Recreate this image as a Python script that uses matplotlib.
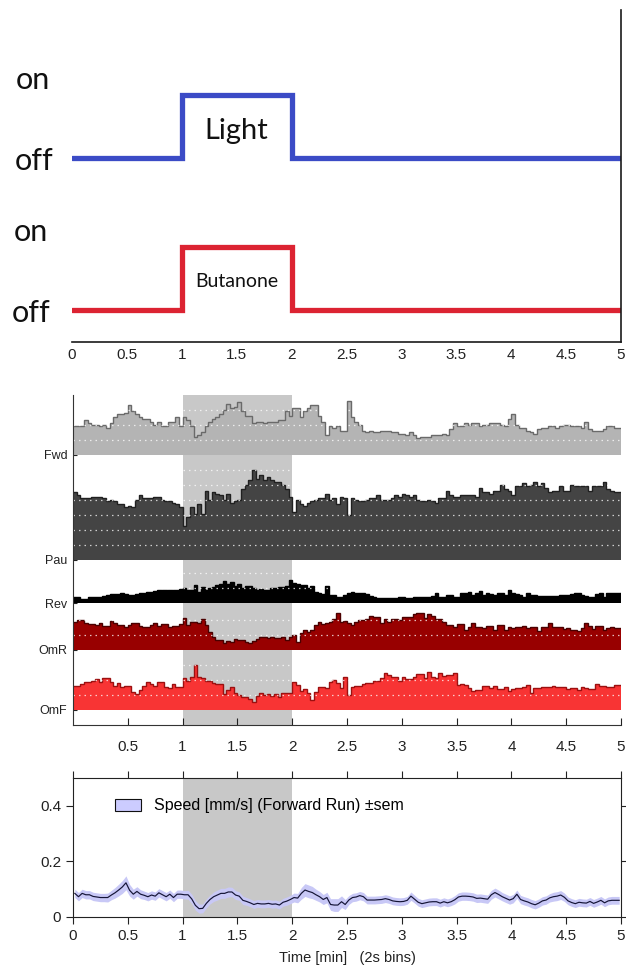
import numpy as np
import matplotlib
matplotlib.use("Agg")
import matplotlib.pyplot as plt
from matplotlib.patches import Patch
from matplotlib.ticker import FuncFormatter

# ---------------- data ----------------
stim_edges = [0, 1, 2, 5]           # minutes
light_state = [0, 1, 0, 0]          # off/on
butanone_state = [0, 1, 0, 0]

time_ticks = [0, 0.5, 1, 1.5, 2, 2.5, 3, 3.5, 4, 4.5, 5]
state_names = ["Fwd", "Pau", "Rev", "OmR", "OmF"]

fwd = [0.19,0.19,0.19,0.23,0.21,0.20,0.20,0.19,0.20,0.18,
       0.21,0.25,0.27,0.27,0.28,0.33,0.29,0.27,0.25,0.24,
       0.24,0.22,0.20,0.22,0.19,0.19,0.22,0.22,0.25,0.19,
       0.25,0.23,0.19,0.12,0.13,0.15,0.19,0.22,0.24,0.25,
       0.27,0.30,0.34,0.31,0.32,0.35,0.29,0.26,0.26,0.21,
       0.22,0.22,0.21,0.22,0.22,0.22,0.23,0.23,0.29,0.26,
       0.31,0.31,0.25,0.29,0.31,0.33,0.33,0.26,0.22,0.13,
       0.19,0.18,0.19,0.16,0.16,0.36,0.25,0.22,0.20,0.16,
       0.15,0.16,0.15,0.15,0.16,0.16,0.16,0.15,0.15,0.14,
       0.14,0.13,0.15,0.13,0.11,0.12,0.12,0.12,0.13,0.13,
       0.13,0.14,0.13,0.17,0.21,0.19,0.19,0.21,0.20,0.21,
       0.21,0.19,0.20,0.20,0.21,0.21,0.21,0.20,0.19,0.24,
       0.27,0.20,0.18,0.18,0.16,0.15,0.14,0.17,0.18,0.18,
       0.19,0.19,0.18,0.19,0.20,0.20,0.19,0.19,0.19,0.18,
       0.22,0.17,0.16,0.16,0.16,0.17,0.19,0.19,0.18,0.18]

pau = [0.45,0.43,0.41,0.41,0.41,0.42,0.42,0.42,0.41,0.39,
       0.40,0.39,0.37,0.37,0.35,0.36,0.35,0.40,0.43,0.41,
       0.41,0.41,0.42,0.42,0.40,0.39,0.39,0.38,0.37,0.35,
       0.23,0.29,0.35,0.31,0.37,0.31,0.46,0.40,0.45,0.44,
       0.43,0.40,0.44,0.38,0.39,0.40,0.47,0.50,0.53,0.60,
       0.54,0.57,0.53,0.55,0.53,0.52,0.52,0.50,0.47,0.42,
       0.32,0.40,0.37,0.36,0.38,0.39,0.40,0.41,0.41,0.44,
       0.40,0.41,0.37,0.42,0.41,0.30,0.41,0.40,0.39,0.39,
       0.40,0.41,0.41,0.43,0.40,0.40,0.40,0.41,0.43,0.42,
       0.44,0.43,0.42,0.43,0.40,0.39,0.39,0.40,0.39,0.38,
       0.41,0.41,0.46,0.43,0.42,0.42,0.43,0.43,0.43,0.43,
       0.42,0.48,0.45,0.45,0.44,0.46,0.46,0.50,0.47,0.46,
       0.43,0.49,0.49,0.51,0.49,0.50,0.52,0.49,0.51,0.48,
       0.45,0.46,0.46,0.49,0.46,0.46,0.50,0.49,0.49,0.49,
       0.49,0.46,0.49,0.49,0.49,0.52,0.47,0.46,0.45,0.45]

rev = [0.040,0.040,0.030,0.030,0.040,0.040,0.042,0.042,0.050,0.053,
       0.060,0.060,0.060,0.064,0.060,0.053,0.053,0.060,0.070,0.070,
       0.076,0.076,0.080,0.087,0.087,0.087,0.090,0.090,0.090,0.095,
       0.100,0.087,0.090,0.120,0.076,0.109,0.087,0.100,0.105,0.120,
       0.130,0.149,0.127,0.142,0.113,0.127,0.098,0.113,0.113,0.098,
       0.087,0.091,0.087,0.087,0.098,0.098,0.105,0.109,0.113,0.153,
       0.136,0.127,0.120,0.120,0.098,0.113,0.076,0.064,0.060,0.113,
       0.053,0.053,0.042,0.038,0.053,0.064,0.076,0.070,0.069,0.065,
       0.058,0.045,0.038,0.033,0.031,0.033,0.035,0.035,0.036,0.038,
       0.038,0.035,0.031,0.040,0.042,0.042,0.042,0.042,0.050,0.064,
       0.042,0.042,0.053,0.053,0.042,0.042,0.064,0.064,0.076,0.053,
       0.070,0.082,0.053,0.064,0.060,0.053,0.064,0.064,0.053,0.087,
       0.069,0.060,0.053,0.042,0.069,0.053,0.053,0.047,0.047,0.047,
       0.047,0.047,0.047,0.053,0.053,0.053,0.060,0.064,0.064,0.055,
       0.047,0.040,0.038,0.060,0.069,0.042,0.064,0.064,0.069,0.069]

omr = [0.189,0.200,0.200,0.178,0.173,0.173,0.167,0.178,0.160,0.160,
       0.196,0.178,0.167,0.167,0.156,0.167,0.178,0.178,0.160,0.156,
       0.156,0.167,0.178,0.160,0.173,0.173,0.156,0.160,0.160,0.173,
       0.211,0.167,0.189,0.189,0.178,0.204,0.167,0.122,0.084,0.067,
       0.067,0.049,0.062,0.056,0.071,0.067,0.067,0.056,0.049,0.062,
       0.075,0.089,0.084,0.078,0.089,0.078,0.078,0.084,0.067,0.089,
       0.100,0.056,0.116,0.133,0.122,0.133,0.167,0.189,0.173,0.180,
       0.189,0.204,0.244,0.189,0.196,0.178,0.167,0.189,0.200,0.200,
       0.204,0.227,0.222,0.222,0.178,0.204,0.189,0.204,0.204,0.200,
       0.218,0.218,0.222,0.240,0.244,0.244,0.211,0.240,0.227,0.204,
       0.204,0.189,0.167,0.167,0.156,0.173,0.173,0.133,0.156,0.178,
       0.156,0.156,0.144,0.160,0.160,0.133,0.167,0.167,0.133,0.156,
       0.144,0.156,0.156,0.160,0.144,0.156,0.156,0.129,0.156,0.156,
       0.178,0.151,0.156,0.156,0.138,0.144,0.133,0.133,0.129,0.144,
       0.178,0.160,0.138,0.160,0.160,0.133,0.144,0.156,0.144,0.144]

omf = [0.160,0.160,0.173,0.189,0.189,0.196,0.204,0.189,0.211,0.211,
       0.189,0.160,0.182,0.156,0.160,0.160,0.122,0.107,0.133,0.160,
       0.189,0.173,0.160,0.189,0.189,0.156,0.144,0.173,0.156,0.156,
       0.211,0.196,0.222,0.300,0.222,0.211,0.196,0.196,0.182,0.173,
       0.173,0.107,0.133,0.156,0.116,0.100,0.089,0.084,0.071,0.056,
       0.093,0.116,0.100,0.107,0.093,0.107,0.089,0.111,0.111,0.111,
       0.189,0.167,0.129,0.138,0.116,0.067,0.122,0.156,0.156,0.144,
       0.189,0.200,0.182,0.144,0.222,0.100,0.156,0.160,0.160,0.173,
       0.182,0.182,0.196,0.196,0.211,0.244,0.233,0.222,0.218,0.196,
       0.222,0.204,0.204,0.222,0.240,0.240,0.211,0.256,0.222,0.211,
       0.249,0.227,0.233,0.233,0.249,0.167,0.173,0.167,0.144,0.129,
       0.133,0.133,0.160,0.160,0.144,0.160,0.138,0.138,0.156,0.129,
       0.138,0.144,0.144,0.156,0.167,0.111,0.144,0.144,0.156,0.151,
       0.151,0.160,0.156,0.156,0.151,0.138,0.144,0.144,0.133,0.156,
       0.144,0.138,0.138,0.173,0.160,0.160,0.151,0.156,0.167,0.167]

speed = [0.085,0.073,0.085,0.080,0.080,0.074,0.072,0.070,0.070,0.070,
         0.079,0.087,0.097,0.108,0.123,0.096,0.082,0.092,0.082,0.078,
         0.073,0.079,0.075,0.087,0.080,0.073,0.082,0.070,0.082,0.082,
         0.080,0.080,0.065,0.042,0.030,0.031,0.049,0.063,0.073,0.079,
         0.085,0.085,0.090,0.090,0.079,0.075,0.060,0.056,0.051,0.045,
         0.049,0.047,0.047,0.049,0.046,0.047,0.043,0.053,0.057,0.063,
         0.070,0.068,0.085,0.097,0.092,0.088,0.080,0.073,0.063,0.070,
         0.045,0.043,0.043,0.055,0.045,0.061,0.070,0.072,0.077,0.073,
         0.061,0.061,0.061,0.062,0.063,0.066,0.063,0.058,0.056,0.055,
         0.056,0.060,0.075,0.064,0.053,0.048,0.051,0.054,0.055,0.055,
         0.050,0.055,0.051,0.055,0.062,0.072,0.075,0.075,0.074,0.072,
         0.067,0.068,0.066,0.064,0.080,0.088,0.081,0.073,0.067,0.061,
         0.066,0.082,0.063,0.058,0.054,0.048,0.044,0.050,0.058,0.061,
         0.069,0.073,0.075,0.079,0.071,0.058,0.052,0.048,0.053,0.051,
         0.050,0.056,0.049,0.054,0.060,0.051,0.058,0.060,0.060,0.060]

speed_sem = [0.015,0.015,0.015,0.015,0.015,0.015,0.015,0.015,0.015,0.016,
             0.017,0.019,0.021,0.023,0.025,0.021,0.018,0.017,0.016,0.015,
             0.015,0.015,0.015,0.015,0.015,0.015,0.015,0.015,0.015,0.015,
             0.015,0.016,0.017,0.017,0.016,0.016,0.016,0.016,0.017,0.018,
             0.018,0.018,0.018,0.017,0.016,0.015,0.015,0.014,0.014,0.014,
             0.014,0.014,0.014,0.014,0.014,0.014,0.014,0.014,0.015,0.015,
             0.016,0.017,0.021,0.023,0.023,0.022,0.020,0.019,0.018,0.019,
             0.021,0.023,0.023,0.021,0.018,0.016,0.015,0.015,0.015,0.015,
             0.014,0.014,0.014,0.014,0.014,0.014,0.014,0.014,0.014,0.014,
             0.014,0.014,0.015,0.014,0.014,0.014,0.014,0.014,0.014,0.014,
             0.014,0.014,0.014,0.014,0.015,0.015,0.015,0.015,0.015,0.015,
             0.015,0.015,0.015,0.015,0.016,0.016,0.016,0.015,0.015,0.015,
             0.015,0.015,0.015,0.015,0.015,0.015,0.015,0.015,0.015,0.015,
             0.015,0.016,0.016,0.016,0.015,0.014,0.014,0.014,0.014,0.014,
             0.014,0.014,0.014,0.014,0.014,0.014,0.014,0.014,0.014,0.014]

# ---------------- style / layout ----------------
W, H = 626, 973
BASE_FONT = ["Liberation Sans", "DejaVu Sans"]
LABEL_FONT = ["Lato", "Open Sans", "DejaVu Sans"]
plt.rcParams["font.family"] = BASE_FONT


def rect(x0, y0, x1, y1):
    return [x0 / W, 1 - y1 / H, (x1 - x0) / W, (y1 - y0) / H]


def fmt(v, _):
    return "%g" % v


fig = plt.figure(figsize=(W / 100, H / 100), dpi=100)

# ---- top: stimulus panel ----
ax1 = fig.add_axes(rect(72, 10, 621, 342))
ax1.set_xlim(0, 5)
ax1.set_ylim(0, 10)
for s in ("top", "left"):
    ax1.spines[s].set_visible(False)
for s in ("bottom", "right"):
    ax1.spines[s].set_color("#1a1a1a")
    ax1.spines[s].set_linewidth(1.2)
ax1.set_yticks([])
ax1.set_xticks(time_ticks)
ax1.xaxis.set_major_formatter(FuncFormatter(fmt))
ax1.tick_params(axis="x", length=0, pad=4, labelsize=11, colors="#222222")

light_off, butanone_off, amp = 5.54, 0.96, 1.9
ax1.step(stim_edges, light_off + amp * np.array(light_state), where="post",
         color="#3b4bc6", lw=3.8, solid_capstyle="round", solid_joinstyle="miter")
ax1.step(stim_edges, butanone_off + amp * np.array(butanone_state), where="post",
         color="#dc2332", lw=3.8, solid_capstyle="round", solid_joinstyle="miter")
ax1.text(1.5, 6.35, "Light", ha="center", va="center", fontsize=21,
         family=LABEL_FONT, color="#111111")
ax1.text(1.5, 1.83, "Butanone", ha="center", va="center", fontsize=14,
         family=LABEL_FONT, color="#111111")
for (px, py, txt) in [(33, 80, "on"), (34, 161, "off"), (31, 232, "on"), (31, 313, "off")]:
    fig.text(px / W, 1 - py / H, txt, ha="center", va="center", fontsize=22,
             family=LABEL_FONT, color="#111111")

# ---- middle: ethogram panel ----
ax2 = fig.add_axes(rect(73, 395, 621, 725))
ax2.set_xlim(0, 5)
ax2.set_ylim(0, 2.2)
ax2.axvspan(1, 2, color="#c8c8c8", lw=0, zorder=0)

series = [fwd, pau, rev, omr, omf]
bases = [1.8, 1.1, 0.813, 0.5, 0.1]
fills = ["#b4b4b4", "#444444", "#000000", "#980000", "#f83434"]
edges_c = ["#6a6a6a", "#202020", "#000000", "#4a0000", "#9c1010"]
grid_lv = [[0.1, 0.2, 0.3], [0.1, 0.2, 0.3, 0.4, 0.5, 0.6], [0.1, 0.2],
           [0.1, 0.2], [0.1, 0.2, 0.3]]
for vals, b, fc, ec, gl in zip(series, bases, fills, edges_c, grid_lv):
    v = np.asarray(vals)
    edges = np.linspace(0, 5, len(v) + 1)
    ax2.stairs(v + b, edges, baseline=b, fill=True, facecolor=fc, lw=0, zorder=2)
    ax2.stairs(v + b, edges, baseline=None, color=ec, lw=1.0, zorder=3)
    for g in gl:
        ax2.axhline(b + g, color="white", lw=0.9, ls=(0, (1.2, 3.2)), alpha=0.75, zorder=4)

for s in ("top", "right"):
    ax2.spines[s].set_visible(False)
for s in ("left", "bottom"):
    ax2.spines[s].set_color("#333333")
    ax2.spines[s].set_zorder(5)
ax2.set_yticks(bases)
ax2.set_yticklabels(state_names)
ax2.set_xticks(time_ticks[1:])
ax2.xaxis.set_major_formatter(FuncFormatter(fmt))
ax2.tick_params(axis="x", direction="in", length=5, pad=11, labelsize=11, colors="#222222")
ax2.tick_params(axis="y", direction="in", length=3, pad=4, labelsize=9, colors="#222222")

# ---- bottom: speed panel ----
ax3 = fig.add_axes(rect(73, 778, 621, 917))
ax3.set_xlim(0, 5)
ax3.set_ylim(0, 0.5)
ax3.axvspan(1, 2, color="#c8c8c8", lw=0, zorder=0)
sp = np.asarray(speed)
se = np.asarray(speed_sem)
t = (np.arange(len(sp)) + 0.5) * 5 / len(sp)
ax3.fill_between(t, sp - se, sp + se, color="#c8c8f6", lw=0, zorder=1)
ax3.plot(t, sp, color="#141436", lw=0.85, zorder=2)
ax3.set_xticks(time_ticks)
ax3.set_yticks([0, 0.2, 0.4])
ax3.xaxis.set_major_formatter(FuncFormatter(fmt))
ax3.yaxis.set_major_formatter(FuncFormatter(fmt))
ax3.tick_params(direction="out", length=5, labelsize=11, colors="#222222",
                top=True, right=True, labeltop=False, labelright=False)
for s in ax3.spines.values():
    s.set_color("#222222")
ax3.set_xlabel("Time [min]   (2s bins)", fontsize=10.5, labelpad=6, color="#222222")
ax3.legend(handles=[Patch(facecolor="#ccccff", edgecolor="#111111", lw=0.8)],
           labels=["Speed [mm/s] (Forward Run) \u00b1sem"], loc="center left",
           bbox_to_anchor=(0.073, 0.8), frameon=False, fontsize=11.5,
           handlelength=1.65, handleheight=0.8, handletextpad=0.8,
           borderpad=0.1, borderaxespad=0.0)

fig.savefig("out.png", dpi=100)
